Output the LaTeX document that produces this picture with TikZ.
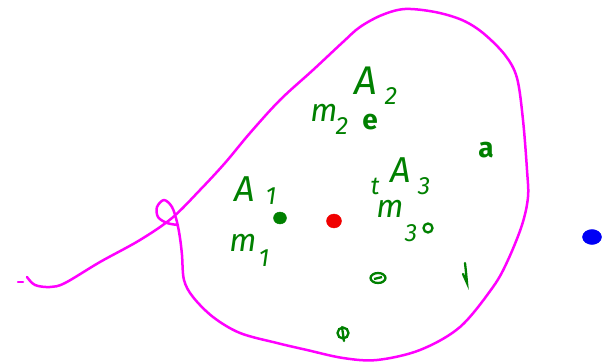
\documentclass[tikz,border=0pt]{standalone}
\usepackage{fontspec}
\setsansfont{Fira Sans}
\usetikzlibrary{shapes.geometric}
\definecolor{pen}{RGB}{255,0,255}
\definecolor{ink}{RGB}{0,128,0}
\definecolor{redink}{RGB}{240,0,0}
\definecolor{blueink}{RGB}{0,0,245}
\begin{document}
\begin{tikzpicture}[x=1pt,y=-1pt,
  stroke/.style={draw=pen,line width=2.5pt,line cap=round,line join=round},
  big/.style={text=ink,inner sep=0pt,font=\fontsize{36}{36}\selectfont\sffamily\itshape},
  mid/.style={text=ink,inner sep=0pt,font=\fontsize{32}{32}\selectfont\sffamily\itshape},
  sub/.style={text=ink,inner sep=0pt,font=\fontsize{25}{25}\selectfont\sffamily\itshape},
  penmark/.style={draw=ink,line width=2.3pt},
  dotg/.style={fill=ink,draw=ink}]
\useasboundingbox (0,0) rectangle (605,364);
% main curve
\draw[stroke] plot[smooth,tension=0.55] coordinates {
 (27,277) (35,285) (50,287) (65,283) (100,262) (140,240) (172,218) (200,190)
 (225,163) (250,133) (280,100) (313,70) (343,42) (360,27) (382,15) (405,9)
 (435,12) (462,20) (483,33) (505,55) (517,78) (523,120) (527,170) (528,197)
 (522,225) (508,260) (493,287) (460,327) (420,350) (377,360) (343,358)
 (307,350) (277,343) (240,333) (213,317) (193,297) (184,280) (182,255)
 (180,238) (177,222) (172,207) (164,200) (157,207) (158,217) (167,223) (178,225)};
\draw[stroke] (18,282) -- (23,282);
% labels
\node[big,font=\fontsize{40}{40}\selectfont\sffamily\itshape] (A2) at (366,81) {A};
\node[sub] (A2s) at (391,96) {2};
\node[mid] (m2) at (324,113) {m};
\node[sub] (m2s) at (342,126) {2};
\node[sub,font=\fontsize{28}{28}\selectfont\sffamily\bfseries] (e) at (370,122) {e};
\node[big] (A1) at (245,189) {A};
\node[sub] (A1s) at (271,196) {1};
\node[dotg,ellipse,minimum width=13pt,minimum height=12pt,inner sep=0pt] (p1) at (280,218) {};
\node[fill=redink,draw=redink,ellipse,minimum width=15pt,minimum height=14pt,inner sep=0pt] (red) at (334,221) {};
\node[sub] (t) at (375,186) {t};
\node[big] (A3) at (401,170) {A};
\node[sub] (A3s) at (424,186) {3};
\node[mid] (m3) at (390,209) {m};
\node[sub] (m3s) at (411,233) {3};
\node[penmark,circle,minimum size=9pt,inner sep=0pt] (p3) at (428,228) {};
\node[mid] (m1) at (243,243) {m};
\node[sub] (m1s) at (264,258) {1};
\node[sub,font=\fontsize{28}{28}\selectfont\sffamily\bfseries] (a) at (486,150) {a};
% small marks
\draw[penmark] (378,278) ellipse (7.5pt and 5pt);
\draw[penmark] (374,279) -- (382,277);
\draw[penmark,line cap=round] (465,263) .. controls (466,272) .. (467,283) .. controls (465,278) .. (463,274);
\draw[penmark] (343,333) circle (5.5pt);
\draw[penmark,line cap=round] (342,327) -- (344,341);
\node[fill=blueink,draw=blueink,ellipse,minimum width=19pt,minimum height=15pt,inner sep=0pt] (blue) at (592,237) {};
\end{tikzpicture}
\end{document}
